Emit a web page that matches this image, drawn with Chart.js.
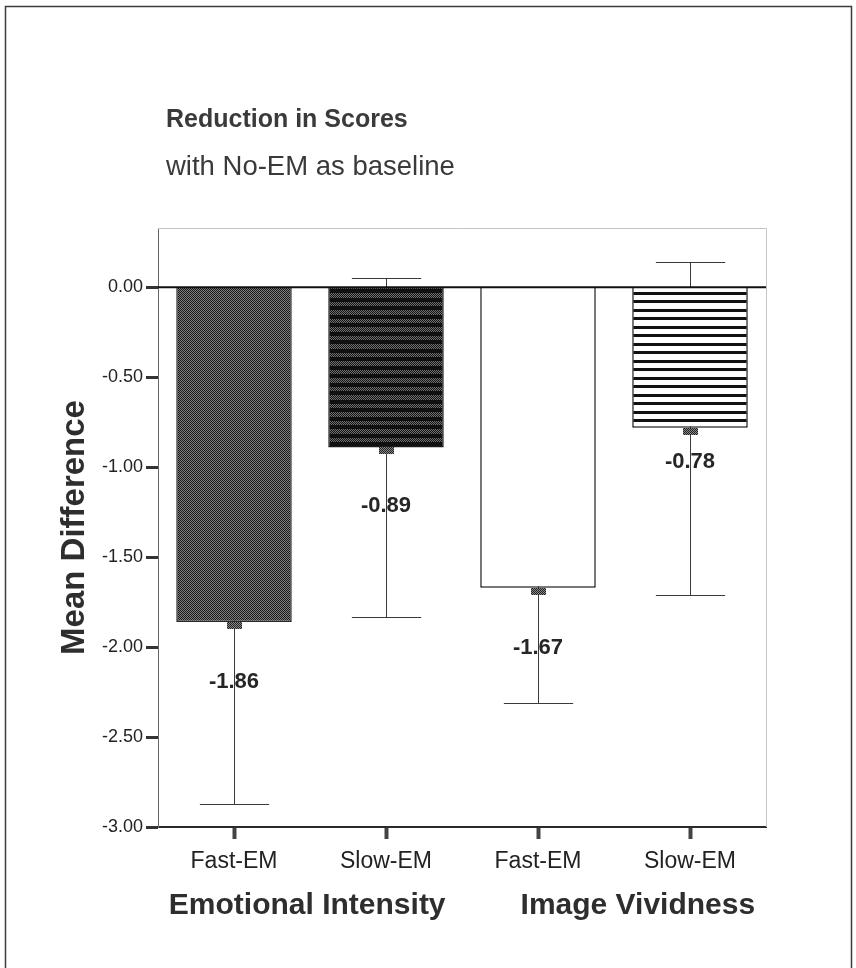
<!DOCTYPE html>
<html>
<head>
<meta charset="utf-8">
<script src="https://cdn.jsdelivr.net/npm/chart.js@4.4.1/dist/chart.umd.min.js"></script>
<style>
  html, body { margin: 0; padding: 0; background: #fff; }
  #wrap { position: relative; width: 856px; height: 968px; }
</style>
</head>
<body>
<div id="wrap"><canvas id="c" width="856" height="968"></canvas></div>
<script>
// Mean differences against the No-EM baseline, with their error-bar limits
const categories  = ['Fast-EM', 'Slow-EM', 'Fast-EM', 'Slow-EM'];
const meanDiff    = [-1.86, -0.89, -1.67, -0.78];
const errLower    = [-2.87, -1.83, -2.31, -1.71];
const errUpper    = [-0.85, 0.05, -1.03, 0.14];
const valueLabels = ['-1.86', '-0.89', '-1.67', '-0.78'];
const yTickValues = [0, -0.5, -1, -1.5, -2, -2.5, -3];
const groupTitles = ['Emotional Intensity', 'Image Vividness'];
const chartTitle    = 'Reduction in Scores';
const chartSubtitle = 'with No-EM as baseline';
const yAxisTitle    = 'Mean Difference';

const FONT = "'Liberation Sans', Arial, Helvetica, sans-serif";
const canvas = document.getElementById('c');
const ctx = canvas.getContext('2d');

function makePattern(w, h, paint) {
  const pc = document.createElement('canvas');
  pc.width = w; pc.height = h;
  const g = pc.getContext('2d');
  paint(g, w, h);
  return ctx.createPattern(pc, 'repeat');
}

// fine halftone stipple
function stipple(g, w, h, dark, light) {
  for (let yy = 0; yy < h; yy++) {
    for (let xx = 0; xx < w; xx++) {
      g.fillStyle = ((xx + yy) % 2 === 0) ? dark : light;
      g.fillRect(xx, yy, 1, 1);
    }
  }
}

const fillStipple = makePattern(2, 2, (g, w, h) => stipple(g, w, h, '#1a1a1a', '#7e7e7e'));
const fillDarkStripes = makePattern(2, 17, (g, w, h) => {
  stipple(g, w, h, '#141414', '#707070');
  g.fillStyle = '#101010';
  g.fillRect(0, 0, w, 4);
  g.fillRect(0, 9, w, 4);
});
const fillLineStripes = makePattern(2, 17, (g, w, h) => {
  g.fillStyle = '#fff'; g.fillRect(0, 0, w, h);
  g.fillStyle = '#111';
  g.fillRect(0, 3, w, 3);
  g.fillRect(0, 11, w, 3);
});
const markerFill = makePattern(2, 2, (g, w, h) => stipple(g, w, h, '#222', '#888'));

const barFills   = [fillStipple, fillDarkStripes, '#ffffff', fillLineStripes];
const barBorders = ['#2a2a2a', '#1c1c1c', '#111111', '#111111'];

const PAD_LEFT = 36, PAD_RIGHT = 90, PAD_TOP = 228, PAD_BOTTOM = 20;
const AXIS_X = 158, AXIS_BOTTOM = 827;

// page frame, titles and the outer plot frame
const decorations = {
  id: 'decorations',
  beforeDraw(chart) {
    const c = chart.ctx;
    c.save();
    c.fillStyle = '#fff';
    c.fillRect(0, 0, chart.width, chart.height);
    c.strokeStyle = '#3c3c3c';
    c.lineWidth = 1.5;
    c.beginPath();
    c.moveTo(5.5, chart.height);
    c.lineTo(5.5, 6.5);
    c.lineTo(851.5, 6.5);
    c.lineTo(851.5, chart.height);
    c.stroke();

    c.fillStyle = '#3a3a3a';
    c.textAlign = 'left';
    c.textBaseline = 'alphabetic';
    c.font = 'bold 25px ' + FONT;
    c.fillText(chartTitle, 166, 127);
    c.font = '27.5px ' + FONT;
    c.fillText(chartSubtitle, 166, 175);
    c.restore();
  },
  beforeDatasetsDraw(chart) {
    const {ctx: c, chartArea: a} = chart;
    c.save();
    c.strokeStyle = '#c4c4c4';
    c.lineWidth = 1;
    c.beginPath();
    c.moveTo(a.left, a.top + 0.5);
    c.lineTo(a.right + 0.5, a.top + 0.5);
    c.lineTo(a.right + 0.5, a.bottom);
    c.stroke();
    c.restore();
  }
};

// error bars drawn behind the bars
const whiskers = {
  id: 'whiskers',
  beforeDatasetsDraw(chart) {
    const c = chart.ctx;
    const y = chart.scales.y;
    const meta = chart.getDatasetMeta(0);
    c.save();
    c.strokeStyle = '#3a3a3a';
    c.lineWidth = 1;
    meta.data.forEach((bar, i) => {
      const x = Math.round(bar.x) + 0.5;
      const yHi = Math.round(y.getPixelForValue(errUpper[i])) + 0.5;
      const yLo = Math.round(y.getPixelForValue(errLower[i])) + 0.5;
      const half = bar.width * 0.3;
      c.beginPath();
      c.moveTo(x, yHi); c.lineTo(x, yLo);
      c.moveTo(x - half, yHi); c.lineTo(x + half, yHi);
      c.moveTo(x - half, yLo); c.lineTo(x + half, yLo);
      c.stroke();
    });
    c.restore();
  }
};

// zero line, mean markers and value labels
const overlays = {
  id: 'overlays',
  afterDatasetsDraw(chart) {
    const c = chart.ctx;
    const {chartArea: a} = chart;
    const y = chart.scales.y;
    const meta = chart.getDatasetMeta(0);
    const y0 = y.getPixelForValue(0);
    c.save();
    c.strokeStyle = '#111';
    c.lineWidth = 2;
    c.beginPath();
    c.moveTo(a.left, y0);
    c.lineTo(a.right, y0);
    c.stroke();

    const labelGap = [60, 58, 60, 34];
    c.font = 'bold 22px ' + FONT;
    c.textAlign = 'center';
    c.textBaseline = 'middle';
    meta.data.forEach((bar, i) => {
      const yv = y.getPixelForValue(meanDiff[i]);
      c.fillStyle = markerFill;
      c.fillRect(Math.round(bar.x - 7), Math.round(yv), 15, 7);
      c.fillStyle = '#262626';
      c.fillText(valueLabels[i], bar.x, yv + labelGap[i]);
    });
    c.restore();
  }
};

new Chart(ctx, {
  type: 'bar',
  data: {
    labels: categories,
    datasets: [{
      data: meanDiff,
      backgroundColor: barFills,
      borderColor: barBorders,
      borderWidth: 1.5,
      barPercentage: 0.76,
      categoryPercentage: 1
    }]
  },
  options: {
    responsive: false,
    animation: false,
    events: [],
    layout: { padding: { top: PAD_TOP, left: PAD_LEFT, right: PAD_RIGHT, bottom: PAD_BOTTOM } },
    plugins: { legend: { display: false }, tooltip: { enabled: false } },
    scales: {
      x: {
        grid: { offset: false, drawOnChartArea: false, drawTicks: true, tickLength: 12, tickWidth: 4, tickColor: '#444' },
        border: { color: '#2a2a2a', width: 2 },
        ticks: { font: { family: FONT, size: 23 }, color: '#222', padding: 9, maxRotation: 0, autoSkip: false },
        title: {
          display: true,
          text: groupTitles.join('         '),
          font: { family: FONT, size: 30, weight: 'bold' },
          color: '#2e2e2e',
          padding: { top: 0, bottom: 24 }
        },
        afterFit(s) { s.height = 968 - PAD_BOTTOM - AXIS_BOTTOM; }
      },
      y: {
        min: -3,
        max: 0.33,
        afterBuildTicks(s) { s.ticks = yTickValues.map(v => ({ value: v })); },
        grid: { drawOnChartArea: false, drawTicks: true, tickLength: 12, tickWidth: 3, tickColor: '#333' },
        border: { color: '#666', width: 1 },
        ticks: {
          font: { family: FONT, size: 18 },
          color: '#222',
          padding: 3,
          callback: v => Number(v).toFixed(2)
        },
        title: {
          display: true,
          text: yAxisTitle,
          font: { family: FONT, size: 33, weight: 'bold' },
          color: '#2e2e2e',
          padding: { top: 19, bottom: 0 }
        },
        afterFit(s) { s.width = AXIS_X - PAD_LEFT; }
      }
    }
  },
  plugins: [decorations, whiskers, overlays]
});
</script>
</body>
</html>
